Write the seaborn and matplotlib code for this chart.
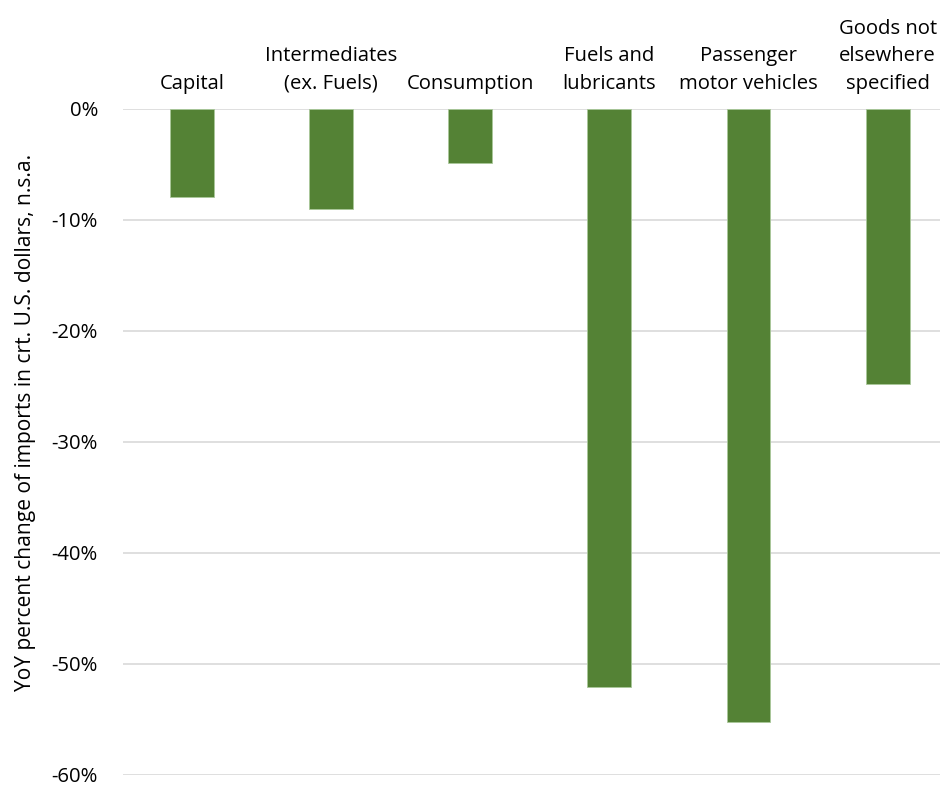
import matplotlib
matplotlib.use("Agg")
import matplotlib.pyplot as plt
import seaborn as sns
import pandas as pd
from matplotlib.ticker import FuncFormatter, MultipleLocator

categories = ["Capital", "Intermediates\n(ex. Fuels)", "Consumption",
              "Fuels and\nlubricants", "Passenger\nmotor vehicles",
              "Goods not\nelsewhere\nspecified"]
values = [-7.9, -9.0, -4.9, -52.1, -55.2, -24.8]
ylabel = "YoY percent change of imports in crt. U.S. dollars, n.s.a."

df = pd.DataFrame({"category": categories, "value": values})

sns.set_theme(style="white")
plt.rcParams['font.family'] = ['Open Sans', 'DejaVu Sans']

fig = plt.figure(figsize=(9.53, 7.88), dpi=100)
ax = fig.add_axes([0.129, 0.0165, 0.857, 0.8452])

sns.barplot(data=df, x="category", y="value", color="#548235", width=0.316,
            saturation=1, ax=ax, zorder=3)
for p in ax.patches:
    p.set_edgecolor("#a9c89a")
    p.set_linewidth(0.6)

ax.set_xlim(-0.496, 5.374)
ax.set_ylim(-60, 0)
ax.yaxis.set_major_locator(MultipleLocator(10))
ax.yaxis.set_major_formatter(FuncFormatter(lambda v, _: f"{v:.0f}%"))
ax.grid(axis="y", color="#d9d9d9", linewidth=1.2, zorder=0)
ax.set_axisbelow(True)
for s in ax.spines.values():
    s.set_visible(False)

fs = 14.6
ax.xaxis.tick_top()
ax.tick_params(axis="x", length=0, pad=11, labelsize=fs, labelcolor="#000000")
ax.tick_params(axis="y", length=0, pad=18, labelsize=fs, labelcolor="#000000")
ax.set_xlabel("")
ax.set_ylabel(ylabel, fontsize=15.1, color="#000000")
ax.yaxis.set_label_coords(-0.106, 0.53)
for t in ax.get_xticklabels():
    t.set_ha("center")
    t.set_multialignment("center")
    t.set_linespacing(1.5)

fig.savefig("out.png", dpi=100, facecolor="white")
